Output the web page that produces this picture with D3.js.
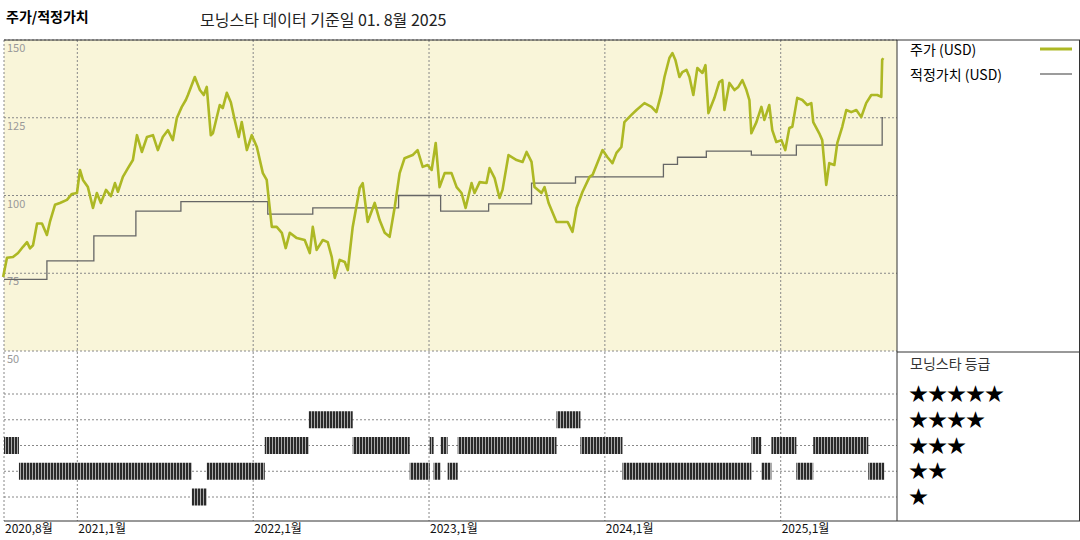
<!DOCTYPE html>
<html><head><meta charset="utf-8">
<script src="https://cdn.jsdelivr.net/npm/d3@7"></script>
<style>body{margin:0;background:#fff}svg{display:block}text{font-family:"Noto Sans CJK KR","Noto Sans",sans-serif}</style>
</head><body><svg id="c" width="1080" height="540"></svg>
<script>
const priceT=[2020.578,2020.600,2020.634,2020.663,2020.691,2020.714,2020.731,2020.748,2020.771,2020.799,2020.827,2020.844,2020.873,2020.901,2020.941,2020.969,2020.998,2021.015,2021.032,2021.060,2021.089,2021.111,2021.134,2021.163,2021.191,2021.214,2021.231,2021.259,2021.288,2021.316,2021.339,2021.367,2021.396,2021.430,2021.458,2021.486,2021.515,2021.543,2021.566,2021.594,2021.617,2021.629,2021.668,2021.697,2021.719,2021.736,2021.759,2021.771,2021.810,2021.827,2021.850,2021.873,2021.895,2021.918,2021.935,2021.964,2021.992,2022.021,2022.055,2022.077,2022.089,2022.106,2022.134,2022.163,2022.185,2022.208,2022.248,2022.293,2022.322,2022.339,2022.361,2022.396,2022.424,2022.447,2022.464,2022.492,2022.521,2022.538,2022.566,2022.606,2022.623,2022.651,2022.691,2022.719,2022.748,2022.776,2022.805,2022.833,2022.861,2022.907,2022.935,2022.964,2022.992,2023.015,2023.038,2023.060,2023.089,2023.128,2023.157,2023.185,2023.208,2023.242,2023.259,2023.288,2023.327,2023.344,2023.373,2023.401,2023.418,2023.452,2023.498,2023.532,2023.555,2023.583,2023.600,2023.640,2023.657,2023.680,2023.725,2023.754,2023.788,2023.816,2023.839,2023.873,2023.913,2023.930,2023.987,2024.015,2024.043,2024.066,2024.094,2024.111,2024.151,2024.180,2024.225,2024.265,2024.293,2024.322,2024.339,2024.367,2024.384,2024.401,2024.424,2024.441,2024.464,2024.481,2024.503,2024.526,2024.555,2024.572,2024.589,2024.623,2024.651,2024.668,2024.680,2024.708,2024.737,2024.759,2024.782,2024.805,2024.822,2024.833,2024.862,2024.890,2024.907,2024.935,2024.952,2024.975,2025.004,2025.026,2025.049,2025.066,2025.094,2025.123,2025.151,2025.174,2025.185,2025.219,2025.236,2025.259,2025.276,2025.305,2025.322,2025.350,2025.373,2025.401,2025.430,2025.458,2025.486,2025.515,2025.549,2025.572,2025.577,2025.583];
const priceV=[73.8,80,80.2,81.5,83.5,85,83,84,91,91,87.3,91.5,97,97.6,98.6,100.5,100.8,108.2,105,102.7,96,100.8,97.6,101.8,99.8,104,101.2,106,108.8,111.4,119.4,114,118.8,119.4,114.6,118.8,121,117.8,124.9,128.5,130.7,132.3,138.1,133.9,132.3,134.9,119.4,120,129.1,128.1,133,130,124.3,118.8,123.6,114.6,119.4,115.6,107.2,105,98.6,89.9,89.9,88,83.1,88,86.3,85.7,81.5,89.9,82.5,85.7,85,80.2,73.5,79.3,78.6,76,89.9,102.4,104,91.5,97.6,92.1,88,86.7,96.3,107.2,112,113,114.6,109.2,109.8,108.2,116.9,102.7,107.2,107.2,102.7,100.8,96,104,100.8,104.3,104,108.8,105.6,99.2,101.8,113,111.4,110.8,114,110.8,102.7,100.8,102.7,97.6,91.5,91.5,91.5,88.3,96,101.2,106,106.6,114.6,112.3,110.4,113.7,115.6,123.6,125.9,127.5,129.7,128.5,126.8,133,138.1,144.2,145.8,143.6,138.1,139.7,140.4,138.1,132.3,141,139.4,141.9,126.5,131.4,136.5,137.1,127.5,136.2,133.9,134.9,137.1,133.9,130.7,120,123.6,128.5,124.3,129.1,121,117.2,117.8,114.6,121.7,122.1,131.4,130.7,129.1,129.7,123.6,120,117.8,103.4,110.4,109.8,116.9,122.1,127.5,126.8,127.5,125.2,129.7,132.3,132.3,131.7,143.6,144.2,146];
const fairT=[2020.583,2020.827,2021.094,2021.333,2021.589,2022.083,2022.339,2022.827,2023.066,2023.339,2023.583,2023.833,2024.333,2024.413,2024.577,2024.833,2025.089,2025.577,2025.583];
const fairV=[73,79,87,95,98,94,96,100,95,97.3,104,106,110,112.3,114.3,113,116.2,125,125];
const ratingStart=[2020.583,2020.668,2021.651,2021.736,2022.066,2022.316,2022.566,2022.890,2023.004,2023.026,2023.066,2023.106,2023.163,2023.725,2023.861,2024.100,2024.833,2024.890,2024.947,2025.089,2025.185,2025.498];
const ratingEnd=[2020.668,2021.651,2021.736,2022.066,2022.316,2022.566,2022.890,2023.004,2023.026,2023.066,2023.106,2023.163,2023.725,2023.861,2024.100,2024.833,2024.890,2024.947,2025.089,2025.185,2025.498,2025.589];
const ratingStars=[3,2,1,2,3,4,3,2,3,2,3,2,3,4,3,2,3,2,3,2,3,2];
const yTicks=[150,125,100,75];
const xTicks=[2020.583,2021,2022,2023,2024,2025];
const xTickLabels=["2020,8월","2021,1월","2022,1월","2023,1월","2024,1월","2025,1월"];
const starLevels=[5,4,3,2,1];

const svg=d3.select("#c");
const L=4,R=897,T=40,MID=351,B=521;
const x=d3.scaleLinear().domain([2020.583,2025.667]).range([L,R+1]);
const y=d3.scaleLinear().domain([50,150]).range([MID,T]);
const ys=d3.scaleLinear().domain([5,1]).range([394,497]);

const defs=svg.append("defs");
const pat=defs.append("pattern").attr("id","hatch").attr("patternUnits","userSpaceOnUse").attr("width",3).attr("height",10);
pat.append("rect").attr("width",3).attr("height",10).attr("fill","#2a2a2a");
pat.append("rect").attr("x",2).attr("width",1).attr("height",10).attr("fill","#aaa");

svg.append("text").attr("x",6).attr("y",22).attr("font-size",14).attr("font-weight","bold").text("주가/적정가치");
svg.append("text").attr("x",200).attr("y",26).attr("font-size",16).attr("fill","#222").text("모닝스타 데이터 기준일 01. 8월 2025");

svg.append("rect").attr("x",L).attr("y",T).attr("width",R-L).attr("height",MID-T).attr("fill","#f9f5d9");
const g=svg.append("g");
function dl(x1,y1,x2,y2){return g.append("line").attr("x1",x1).attr("y1",y1).attr("x2",x2).attr("y2",y2).attr("stroke","#888").attr("stroke-dasharray","2,2");}
yTicks.forEach(v=>dl(L,y(v),R,y(v)));
dl(L,MID,R,MID);
yTicks.concat([50]).forEach(v=>g.append("text").attr("x",L+3).attr("y",y(v)+12).attr("font-size",11).attr("fill","#999").attr("font-family","Liberation Sans").text(v));
starLevels.forEach(s=>dl(L,ys(s),R,ys(s)));
xTicks.forEach((t,i)=>{ dl(x(t),T,x(t),B);
  svg.append("text").attr("x",x(t)+1).attr("y",533).attr("font-size",12).attr("fill","#111").text(xTickLabels[i]);});

svg.append("g").selectAll("rect").data(ratingStars).join("rect")
 .attr("x",(d,i)=>x(ratingStart[i])).attr("width",(d,i)=>Math.max(1,x(ratingEnd[i])-x(ratingStart[i])))
 .attr("y",d=>ys(d)-8.5).attr("height",17).attr("fill","url(#hatch)");

const fair=fairT.map((t,i)=>[t,fairV[i]]);
svg.append("path").datum(fair).attr("fill","none").attr("stroke","#666").attr("stroke-width",1.3)
 .attr("d",d3.line().x(d=>x(d[0])).y(d=>y(d[1])).curve(d3.curveStepAfter));
const price=priceT.map((t,i)=>[t,priceV[i]]);
svg.append("path").datum(price).attr("fill","none").attr("stroke","#adb824").attr("stroke-width",2.6).attr("stroke-linejoin","round")
 .attr("d",d3.line().x(d=>x(d[0])).y(d=>y(d[1])));

const fr=svg.append("g").attr("stroke","#333").attr("stroke-width",1);
fr.append("line").attr("x1",L).attr("x2",1080).attr("y1",T).attr("y2",T);
fr.append("line").attr("x1",L).attr("x2",1080).attr("y1",B).attr("y2",B);
fr.append("line").attr("x1",R).attr("x2",R).attr("y1",T).attr("y2",B);
fr.append("line").attr("x1",R).attr("x2",1080).attr("y1",352).attr("y2",352);
fr.append("line").attr("x1",1079.5).attr("x2",1079.5).attr("y1",T).attr("y2",B);

svg.append("text").attr("x",910).attr("y",55).attr("font-size",14).text("주가 (USD)");
svg.append("line").attr("x1",1040).attr("x2",1072).attr("y1",49).attr("y2",49).attr("stroke","#adb824").attr("stroke-width",3);
svg.append("text").attr("x",910).attr("y",80).attr("font-size",14).text("적정가치 (USD)");
svg.append("line").attr("x1",1040).attr("x2",1072).attr("y1",74).attr("y2",74).attr("stroke","#666").attr("stroke-width",1.3);
svg.append("text").attr("x",910).attr("y",369).attr("font-size",14).attr("fill","#333").text("모닝스타 등급");
svg.append("g").selectAll("text").data(starLevels).join("text").attr("x",909).attr("y",d=>ys(d)+7)
 .attr("font-size",19).attr("font-family","DejaVu Sans").text(d=>"★".repeat(d));
</script></body></html>
